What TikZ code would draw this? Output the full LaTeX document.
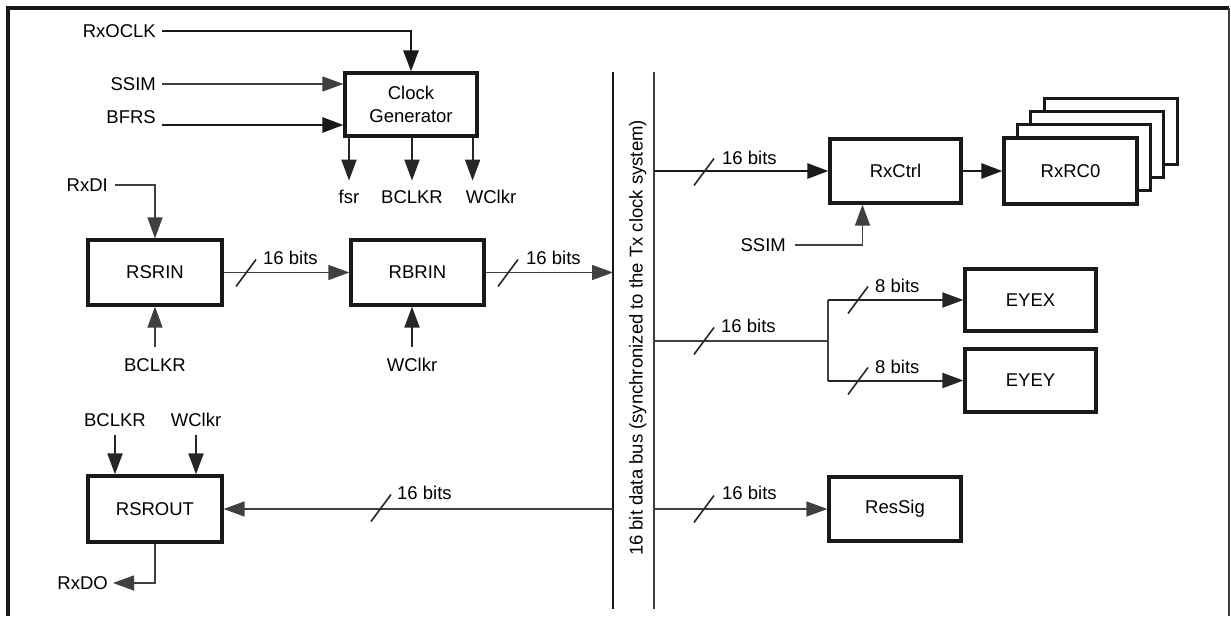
\documentclass[tikz,border=0pt]{standalone}
\usepackage{fontspec}
\setmainfont{Liberation Sans}
\usetikzlibrary{arrows.meta,calc}
\begin{document}
\begin{tikzpicture}[x=1pt,y=-1pt,
  font=\fontsize{18.5}{22}\selectfont,
  box/.style={draw=black!90,line width=3.2pt,fill=white,inner sep=0pt},
  lbl/.style={inner sep=0pt,text height=13.3pt,text depth=0pt},
  arr/.style={-{Triangle[length=21pt,width=15pt]}},
  thinl/.style={line width=1.3pt,draw=black!75},
  medl/.style={line width=2pt,draw=black!85},
  thickl/.style={line width=2.7pt,draw=black!90},
  slashl/.style={line width=1.6pt,draw=black!85},
  pics/busslash/.style={code={\draw[slashl] (-10,13.5) -- (10,-13.5);}}
]
\useasboundingbox (0,0) rectangle (1231,616);
% frame
\draw[line width=3.2pt,draw=black!90] (8,616) -- (8,8) -- (1229,8);
\draw[line width=2pt,draw=black!75] (1229,8) -- (1229,616);

% bus
\coordinate (busLtop) at (613,72);
\coordinate (busLbot) at (613,609);
\coordinate (busRtop) at (654,72);
\coordinate (busRbot) at (654,609);
\draw[thickl] (busLtop) -- (busLbot);
\draw[thinl] (busRtop) -- (busRbot);
\node[lbl,rotate=90] (bustxt) at (636,338) {16 bit data bus (synchronized to the Tx clock system)};

% boxes
\node[box,minimum width=132pt,minimum height=63pt,align=center] (clk) at (411,104.5) {Clock\\[1pt]Generator};
\node[box,minimum width=134pt,minimum height=65pt] (rsrin) at (155,272.5) {RSRIN};
\node[box,minimum width=133pt,minimum height=65pt] (rbrin) at (417.5,272.5) {RBRIN};
\node[box,minimum width=134pt,minimum height=66pt] (rsrout) at (155,509) {RSROUT};
\node[box,minimum width=131pt,minimum height=64pt] (rxctrl) at (895.5,171) {RxCtrl};
\foreach \i in {3,2,1}
  \draw[box] ($(1004,138)+(13.4*\i,-13.3*\i)$) rectangle ++(133,66);
\node[box,minimum width=133pt,minimum height=66pt] (rxrc) at (1070.5,171) {RxRC0};
\node[box,minimum width=131pt,minimum height=62pt] (eyex) at (1030.5,300) {EYEX};
\node[box,minimum width=131pt,minimum height=63pt] (eyey) at (1030.5,380.5) {EYEY};
\node[box,minimum width=132pt,minimum height=64pt] (ressig) at (895,509) {ResSig};

% clock generator inputs
\node[lbl,anchor=east] (rxoclk) at (156,31) {RxOCLK};
\node[lbl,anchor=east] (ssim) at (156,84) {SSIM};
\node[lbl,anchor=east] (bfrs) at (156,117) {BFRS};
\draw[thickl,arr] ([xshift=6pt]rxoclk.east) -| (clk.north);
\draw[thinl,arr] ([xshift=6pt]ssim.east) -- (ssim.east -| clk.west);
\draw[thickl,arr] ([shift={(6,8)}]bfrs.east) -- ([yshift=-8pt]bfrs.east -| clk.west);

% clock generator outputs
\node[lbl] (fsr) at (349,197) {fsr};
\node[lbl] (bclkra) at (412,197) {BCLKR};
\node[lbl] (wclkra) at (491,197) {WClkr};
\draw[medl,arr] (clk.south -| fsr) -- ++(0,43);
\draw[medl,arr] (clk.south -| bclkra) -- ++(0,43);
\draw[medl,arr] ([xshift=-6pt]clk.south east) -- ++(0,43);

% RSRIN
\node[lbl,anchor=east] (rxdi) at (108,185) {RxDI};
\draw[thinl,arr] ([xshift=7pt]rxdi.east) -| (rsrin.north);
\node[lbl] (bclkrb) at (155,365) {BCLKR};
\draw[thinl,arr,shorten <=11pt] (bclkrb.north) -- (rsrin.south);

% RSRIN -> RBRIN
\draw[thinl,arr] (rsrin.east) -- (rbrin.west);
\pic at (246,273) {busslash};
\node[lbl,anchor=west] (bits1) at (263,258) {16 bits};

% RBRIN
\node[lbl] (wclkrb) at (412,365) {WClkr};
\draw[medl,arr,shorten <=11pt] (wclkrb.north) -- (wclkrb.north |- rbrin.south);
\draw[thinl,arr] (rbrin.east) -- (rbrin.east -| busLtop);
\pic at (508,273) {busslash};
\node[lbl,anchor=west] (bits2) at (526,258) {16 bits};

% RSROUT
\node[lbl] (bclkrc) at (115,420) {BCLKR};
\node[lbl] (wclkrc) at (196,420) {WClkr};
\draw[medl,arr,shorten <=8pt] (bclkrc.south) -- (bclkrc.south |- rsrout.north);
\draw[medl,arr,shorten <=8pt] (wclkrc.south) -- (wclkrc.south |- rsrout.north);
\node[lbl,anchor=east] (rxdo) at (108,583) {RxDO};
\draw[thinl,arr] (rsrout.south) |- ([xshift=5pt]rxdo.east);
\draw[thinl,arr] (busLtop |- rsrout) -- (rsrout.east);
\pic at (381,508) {busslash};
\node[lbl,anchor=west] (bits3) at (397,493) {16 bits};

% RxCtrl
\draw[thickl,arr] (busRtop |- rxctrl) -- (rxctrl.west);
\pic at (704,172) {busslash};
\node[lbl,anchor=west] (bits4) at (722,158) {16 bits};
\draw[thickl,arr] (rxctrl.east) -- (rxrc.west);
\node[lbl,anchor=east] (ssimb) at (786,245) {SSIM};
\draw[thinl,arr] ([xshift=9pt]ssimb.east) -| ([xshift=-33pt]rxctrl.south);

% EYEX / EYEY
\coordinate (br) at (828,341);
\draw[thinl] (busRtop |- br) -- (br);
\draw[thinl] (br |- eyex) -- (br |- eyey);
\pic at (704,341) {busslash};
\node[lbl,anchor=west] (bits5) at (721,326) {16 bits};
\draw[medl,arr] (br |- eyex) -- (eyex.west);
\draw[medl,arr] (br |- eyey) -- (eyey.west);
\pic at (858,300) {busslash};
\node[lbl,anchor=west] (bits6) at (875,286) {8 bits};
\pic at (858,381) {busslash};
\node[lbl,anchor=west] (bits7) at (875,367) {8 bits};

% ResSig
\draw[thinl,arr] (busRtop |- ressig) -- (ressig.west);
\pic at (704,509) {busslash};
\node[lbl,anchor=west] (bits8) at (722,493) {16 bits};
\end{tikzpicture}
\end{document}
